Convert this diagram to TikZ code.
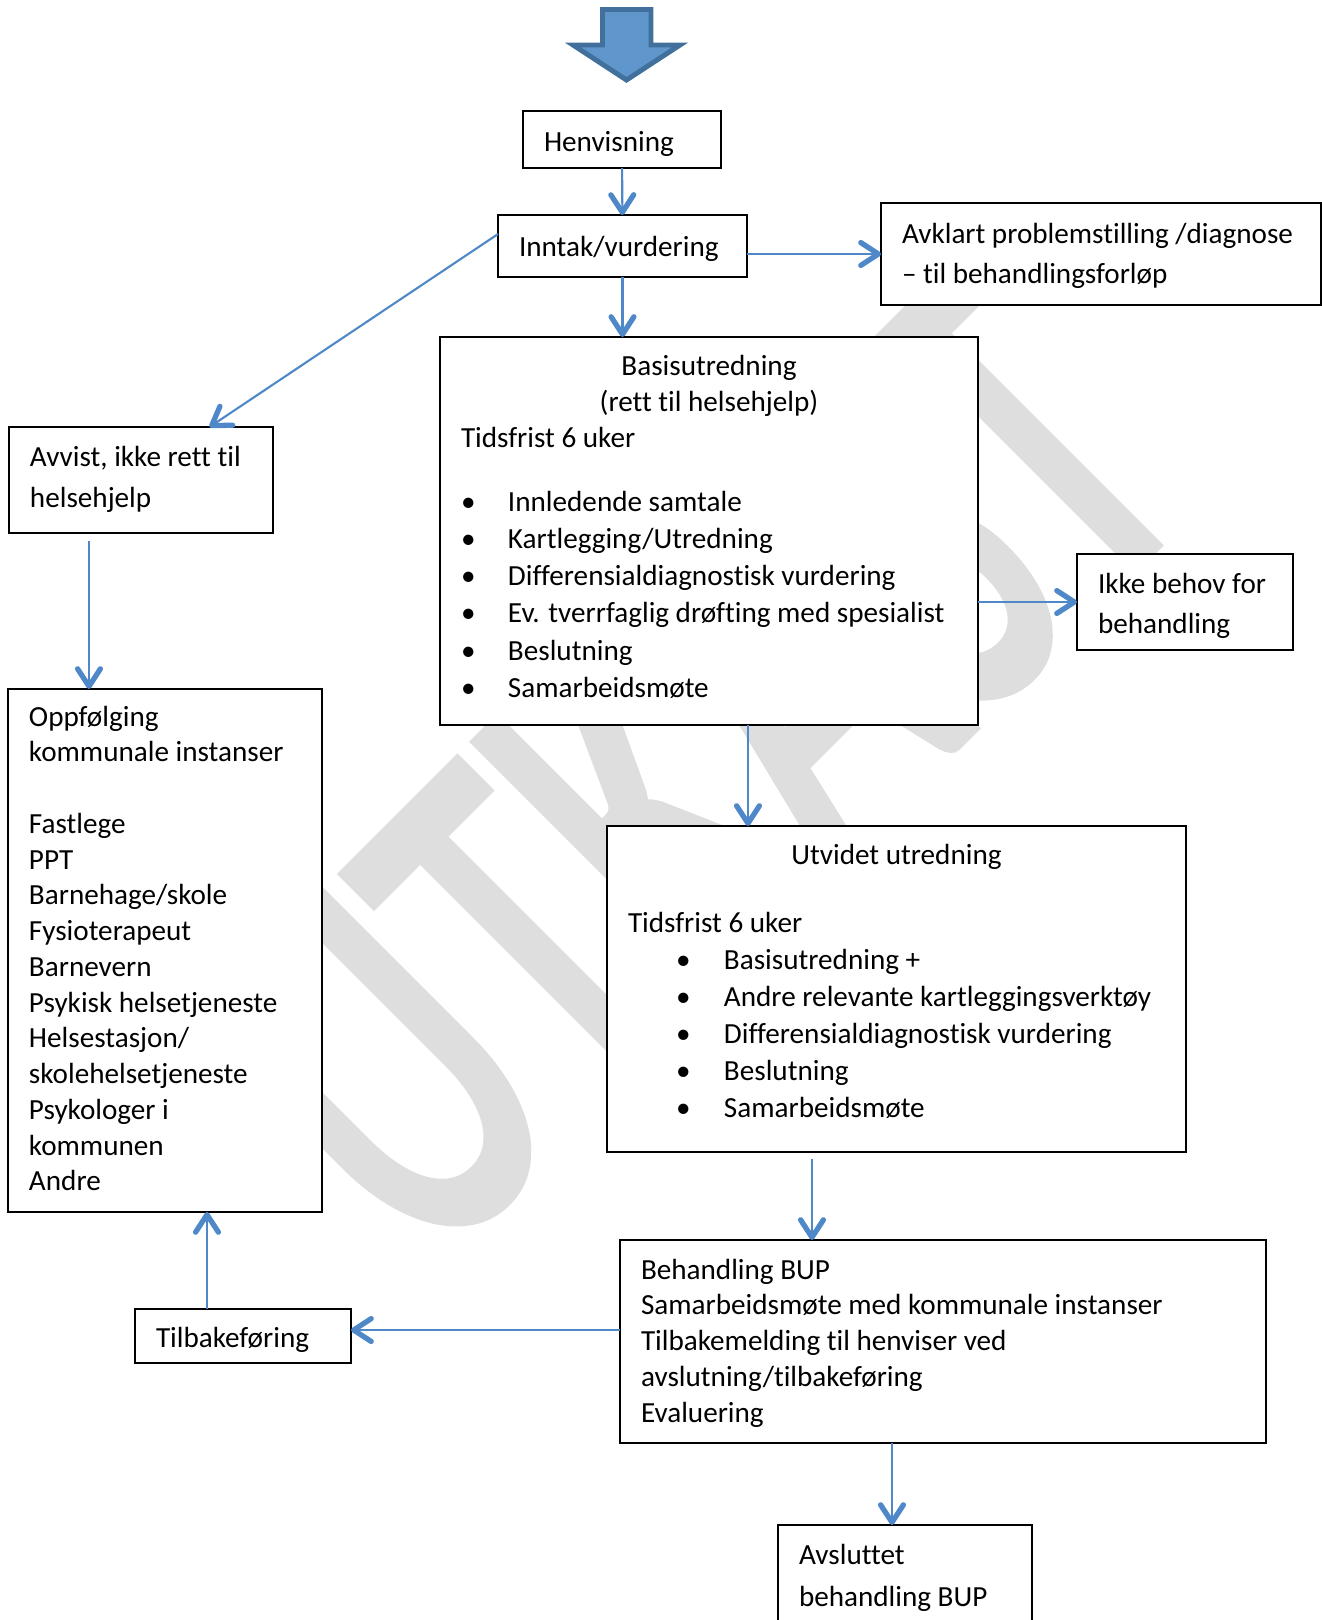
\documentclass[tikz,border=0pt]{standalone}
\usepackage{fontspec}
\setmainfont{Carlito}[Ligatures=NoCommon]
\newfontfamily\merkefont{Carlito}[FakeBold=2.5]
\usetikzlibrary{arrows.meta}

\newlength\px
\setlength\px{0.02cm}
\definecolor{blaa}{HTML}{4E88C8}
\definecolor{pilfyll}{HTML}{5F96CC}
\definecolor{pilkant}{HTML}{41709C}
\newcommand\boksfont{\fontsize{16.6}{20}\selectfont}
\newcommand\innhold[4]{\parbox[c][#2\px][t]{#1\px}{\baselineskip=#3\px\relax #4}}
\newcommand\forste[2]{\hbox to\hsize{\rule{0pt}{#1\px}\hspace*{21\px}#2\hss}}
\newcommand\linje[1]{\hbox to\hsize{\hspace*{21\px}#1\hss}}
\newcommand\punkt[2]{\hspace*{#1\px}\makebox[#2\px][l]{\textbullet}}

\begin{document}
\begin{tikzpicture}[x=0.02cm,y=-0.02cm,
	boks/.style={draw,fill=white,inner sep=0,outer sep=0,anchor=north west,line width=0.8pt,font=\boksfont},
	pil/.style={draw=blaa,line width=1.2pt,-{Straight Barb[length=10pt,width=13pt,line width=3pt,round]}},
	vannmerke/.style={anchor=base,rotate=45,xscale=0.66,inner sep=0,text=black!13,font=\merkefont\fontsize{301}{301}\selectfont}]
	\useasboundingbox (0,0) rectangle (1322,1620);
	\node[vannmerke] (utkast) at (814,886) {UTKAST};
	\draw[line width=2.8pt,draw=pilkant,fill=pilfyll] (602.5,9.5) -- (651,9.5) -- (651,45) -- (680,45) -- (626.5,80) -- (573,45) -- (602.5,45) -- cycle;
	\node[boks] (henv) at (523,111) {\innhold{198}{57}{36}{\forste{40}{Henvisning}}};
	\node[boks] (inntak) at (498,215) {\innhold{249}{62}{36}{\forste{41}{Inntak/vurdering}}};
	\node[boks] (avklart) at (881,203) {\innhold{440}{102}{40}{\forste{40}{Avklart problemstilling /diagnose}\linje{– til behandlingsforløp}}};
	\node[boks] (avvist) at (9,427) {\innhold{264}{106}{41}{\forste{39}{Avvist, ikke rett til}\linje{helsehjelp}}};
	\node[boks] (basis) at (440,337) {\innhold{538}{388}{36}{%
		\centerline{\rule{0pt}{38\px}Basisutredning}
		\centerline{(rett til helsehjelp)}
		\linje{Tidsfrist 6 uker}
		\vskip 27\px \baselineskip=37.2\px\relax
		\linje{\punkt{0}{47}Innledende samtale}
		\linje{\punkt{0}{47}Kartlegging/Utredning}
		\linje{\punkt{0}{47}Differensialdiagnostisk vurdering}
		\linje{\punkt{0}{47}Ev. tverrfaglig drøfting med spesialist}
		\linje{\punkt{0}{47}Beslutning}
		\linje{\punkt{0}{47}Samarbeidsmøte}}};
	\node[boks] (ikke) at (1077,554) {\innhold{216}{96}{40}{\forste{39}{Ikke behov for}\linje{behandling}}};
	\node[boks] (oppf) at (8,689) {\innhold{314}{523}{35.75}{%
		\forste{37}{Oppfølging}
		\linje{kommunale instanser}
		\vskip 35.75\px
		\linje{Fastlege}
		\linje{PPT}
		\linje{Barnehage/skole}
		\linje{Fysioterapeut}
		\linje{Barnevern}
		\linje{Psykisk helsetjeneste}
		\linje{Helsestasjon/}
		\linje{skolehelsetjeneste}
		\linje{Psykologer i}
		\linje{kommunen}
		\linje{Andre}}};
	\node[boks] (utvidet) at (607,826) {\innhold{579}{326}{36}{%
		\centerline{\rule{0pt}{38\px}Utvidet utredning}
		\vskip 32\px
		\linje{Tidsfrist 6 uker}
		\baselineskip=37\px\relax
		\linje{\punkt{48}{48}Basisutredning +}
		\linje{\punkt{48}{48}Andre relevante kartleggingsverktøy}
		\linje{\punkt{48}{48}Differensialdiagnostisk vurdering}
		\linje{\punkt{48}{48}Beslutning}
		\linje{\punkt{48}{48}Samarbeidsmøte}}};
	\node[boks] (behandling) at (620,1240) {\innhold{646}{203}{35.8}{%
		\forste{39}{Behandling BUP}
		\linje{Samarbeidsmøte med kommunale instanser}
		\linje{Tilbakemelding til henviser ved}
		\linje{avslutning/tilbakeføring}
		\linje{Evaluering}}};
	\node[boks] (tilbake) at (135,1309) {\innhold{216}{54}{36}{\forste{38}{Tilbakeføring}}};
	\node[boks] (avsluttet) at (778,1525) {\innhold{254}{110}{42}{\forste{39}{Avsluttet}\linje{behandling BUP}}};
	% piler
	\draw[pil] (henv) -- (inntak);
	\draw[pil] (avklart.west -| inntak.east) -- (avklart.west);
	\draw[pil] (inntak.south) -- (inntak.south |- basis.north);
	\draw[pil] ([yshift=6.8pt]inntak.west) -- ([xshift=39pt]avvist.north);
	\coordinate (a1) at ([shift={(-52,8)}]avvist.south);
	\draw[pil] (a1) -- (a1 |- oppf.north);
	\draw[pil] (ikke.west -| basis.east) -- (ikke.west);
	\coordinate (b1) at ([shift={(39,0)}]basis.south);
	\draw[pil] (b1) -- (b1 |- utvidet.north);
	\coordinate (u1) at ([shift={(-84.5,7)}]utvidet.south);
	\draw[pil] (u1) -- (u1 |- behandling.north);
	\draw[pil] ([yshift=3.4pt]tilbake.east -| behandling.west) -- ([yshift=3.4pt]tilbake.east);
	\coordinate (t1) at ([shift={(-36,0)}]tilbake.north);
	\draw[pil] (t1) -- (t1 |- oppf.south);
	\coordinate (h1) at ([shift={(-51,0)}]behandling.south);
	\draw[pil] (h1) -- (h1 |- avsluttet.north);
\end{tikzpicture}
\end{document}
